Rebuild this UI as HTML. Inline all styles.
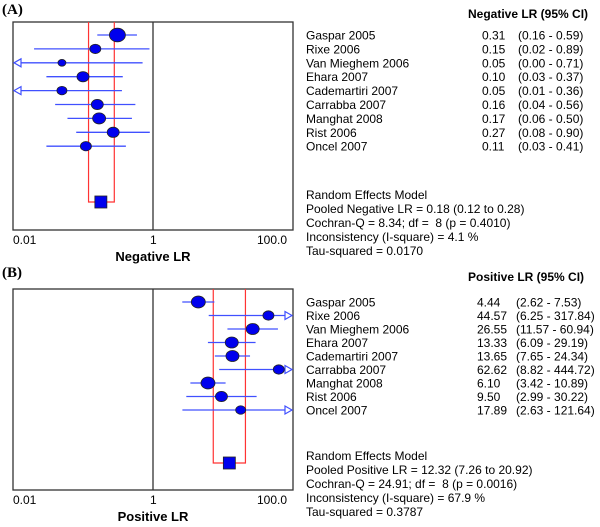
<!DOCTYPE html>
<html><head><meta charset="utf-8"><style>
body{margin:0;background:#fff;width:600px;height:522px;overflow:hidden}
svg{font-family:"Liberation Sans",Arial,sans-serif}
svg text{white-space:pre}
</style></head><body>
<svg id="s" width="600" height="522" xmlns="http://www.w3.org/2000/svg">
<text x="2" y="14" font-family="Liberation Serif" font-weight="bold" font-size="15">(A)</text>
<text x="2" y="277" font-family="Liberation Serif" font-weight="bold" font-size="15">(B)</text>
</svg>
<script>
const studies=["Gaspar 2005","Rixe 2006","Van Mieghem 2006","Ehara 2007","Cademartiri 2007","Carrabba 2007","Manghat 2008","Rist 2006","Oncel 2007"];
const negEst=[0.31,0.15,0.05,0.10,0.05,0.16,0.17,0.27,0.11];
const negLo=[0.16,0.02,0.00,0.03,0.01,0.04,0.06,0.08,0.03];
const negHi=[0.59,0.89,0.71,0.37,0.36,0.56,0.50,0.90,0.41];
const negWeight=[8,5.5,4,6,5,6,6.5,6,5.5];
const negPooled=[0.18,0.12,0.28];
const posEst=[4.44,44.57,26.55,13.33,13.65,62.62,6.10,9.50,17.89];
const posLo=[2.62,6.25,11.57,6.09,7.65,8.82,3.42,2.99,2.63];
const posHi=[7.53,317.84,60.94,29.19,24.34,444.72,10.89,30.22,121.64];
const posWeight=[7,5.5,6.5,6.5,6.5,5.5,7,6,5];
const posPooled=[12.32,7.26,20.92];
const tickVals=[0.01,1,100];
const tickLabels=["0.01","1","100.0"];
const negStats=["Random Effects Model","Pooled Negative LR = 0.18 (0.12 to 0.28)","Cochran-Q = 8.34; df =  8 (p = 0.4010)","Inconsistency (I-square) = 4.1 %","Tau-squared = 0.0170"];
const posStats=["Random Effects Model","Pooled Positive LR = 12.32 (7.26 to 20.92)","Cochran-Q = 24.91; df =  8 (p = 0.0016)","Inconsistency (I-square) = 67.9 %","Tau-squared = 0.3787"];
const NS="http://www.w3.org/2000/svg";
const svg=document.getElementById('s');
function mk(tag,attrs,parent){const e=document.createElementNS(NS,tag);for(const k in attrs)e.setAttribute(k,attrs[k]);(parent||svg).appendChild(e);return e;}
function panel(cfg){
  const x0=13,x1=293,top=cfg.top,bot=cfg.bot;
  const xs=v=>{const c=Math.min(Math.max(v,0.01),100);return x0+(Math.log10(c)+2)/4*(x1-x0);};
  const g=mk('g',{});
  
  
  const fr=mk('rect',{x:x0,y:top,width:x1-x0,height:bot-top,fill:'#fff',stroke:'#333','stroke-width':1.3},g);
  
  
  const ref=mk('line',{x1:xs(1),x2:xs(1),y1:top,y2:bot,stroke:'#333','stroke-width':1.3},g);
  
  
  const py=cfg.pooledY;
  const rb=mk('polyline',{points:`${xs(cfg.pooled[1])},${top} ${xs(cfg.pooled[1])},${py} ${xs(cfg.pooled[2])},${py} ${xs(cfg.pooled[2])},${top}`,fill:'none',stroke:'#f33','stroke-width':1.2},g);
  
  
  cfg.est.forEach((v,i)=>{
    const y=cfg.rowY(i);
    const lo=cfg.lo[i],hi=cfg.hi[i];
    const la=xs(lo)+(lo<=0.01?7:0), ra=xs(hi)-(hi>100?7:0);
    const l=mk('line',{x1:la,x2:ra,y1:y,y2:y,stroke:'#4050ff','stroke-width':1.3},g);
    
    
    if(lo<=0.01){const a=mk('polygon',{points:`${x0+1},${y} ${x0+8},${y-4} ${x0+8},${y+4}`,fill:'#fff',stroke:'#4050ff','stroke-width':1.2},g);
      }
    if(hi>100){const a=mk('polygon',{points:`${x1-1},${y} ${x1-8},${y-4} ${x1-8},${y+4}`,fill:'#fff',stroke:'#4050ff','stroke-width':1.2},g);
      }
    const w=cfg.w[i];
    const c=mk('ellipse',{cx:xs(v),cy:y,rx:w,ry:w*0.85,fill:'#0000ee',stroke:'#222','stroke-width':0.8},g);
    
    
  });
  const sq=mk('rect',{x:xs(cfg.pooled[0])-6,y:py-6,width:12,height:12,fill:'#0000ee',stroke:'#222','stroke-width':0.8},g);
  
  
  tickVals.forEach((t,i)=>{
    const tx=mk('text',{x:xs(t)+(i==0?0:i==2?-36:-3),y:bot+14,'font-size':12},g);
    tx.textContent=tickLabels[i];
    
    
  });
  const at=mk('text',{x:xs(1),y:bot+31,'font-size':13,'font-weight':'bold','text-anchor':'middle'},g);
  at.textContent=cfg.axis;
  
  
  const hd=mk('text',{x:468,y:cfg.headY,'font-size':12,'font-weight':'bold'},g);
  hd.textContent=cfg.head;
  
  
  studies.forEach((s,i)=>{
    const y=cfg.rowY(i)+4.5;
    const n=mk('text',{x:306,y:y,'font-size':12},g);n.textContent=s;
    
    const v=mk('text',{x:cfg.numX,y:y,'font-size':12},g);v.textContent=cfg.fmt(cfg.est[i]);
    
    const ci=mk('text',{x:cfg.ciX,y:y,'font-size':12},g);ci.textContent='('+cfg.fmt(cfg.lo[i])+' - '+cfg.fmt(cfg.hi[i])+')';
    
  });
  cfg.stats.forEach((s,i)=>{
    const t=mk('text',{x:306,y:cfg.statY+i*14,'font-size':12},g);t.textContent=s;
    
  });
}
const f2=v=>v.toFixed(2);
panel({key:'negative-lr',top:22,bot:230,pooledY:202,rowY:i=>35+i*13.9,est:negEst,lo:negLo,hi:negHi,w:negWeight,pooled:negPooled,
  axis:'Negative LR',head:'Negative LR (95% CI)',headY:18,numX:482,ciX:518,fmt:f2,stats:negStats,statY:199});
panel({key:'positive-lr',top:289,bot:490,pooledY:463,rowY:i=>302+i*13.5,est:posEst,lo:posLo,hi:posHi,w:posWeight,pooled:posPooled,
  axis:'Positive LR',head:'Positive LR (95% CI)',headY:281,numX:477,ciX:516,fmt:f2,stats:posStats,statY:460});
</script>
</body></html>
